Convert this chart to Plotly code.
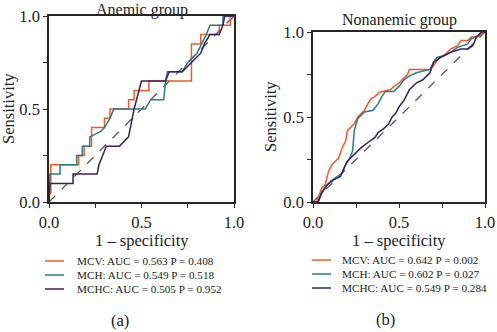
import plotly.graph_objects as go

W, H = 497, 332

series_names = ["MCV", "MCH", "MCHC"]
colors = ["#f05a28", "#2b7b8a", "#3b1f5c"]

# Anemic group (a)
a_labels = ["MCV: AUC = 0.563 P = 0.408", "MCH: AUC = 0.549 P = 0.518", "MCHC: AUC = 0.505 P = 0.952"]
a_mcv_x = [0, 0.005, 0.01, 0.01, 0.16, 0.16, 0.19, 0.19, 0.23, 0.23, 0.30, 0.30, 0.33, 0.33, 0.43, 0.43, 0.46, 0.46, 0.54, 0.54, 0.77, 0.77, 0.82, 0.82, 0.92, 0.92, 0.98, 0.98, 1.0]
a_mcv_y = [0, 0.05, 0.05, 0.20, 0.20, 0.25, 0.25, 0.30, 0.30, 0.40, 0.40, 0.45, 0.45, 0.50, 0.50, 0.55, 0.55, 0.60, 0.60, 0.65, 0.65, 0.85, 0.85, 0.90, 0.90, 0.95, 0.95, 1.0, 1.0]
a_mch_x = [0, 0.005, 0.005, 0.06, 0.06, 0.15, 0.15, 0.18, 0.18, 0.22, 0.22, 0.28, 0.30, 0.33, 0.35, 0.52, 0.55, 0.62, 0.63, 0.64, 0.72, 0.75, 0.80, 0.85, 0.87, 0.94, 0.94, 1.0]
a_mch_y = [0, 0.10, 0.15, 0.15, 0.20, 0.20, 0.25, 0.25, 0.30, 0.30, 0.35, 0.38, 0.40, 0.45, 0.50, 0.50, 0.55, 0.55, 0.65, 0.70, 0.70, 0.75, 0.80, 0.90, 0.95, 0.95, 1.0, 1.0]
a_mchc_x = [0, 0.005, 0.13, 0.13, 0.26, 0.27, 0.31, 0.38, 0.43, 0.46, 0.50, 0.63, 0.65, 0.72, 0.77, 0.82, 0.84, 0.87, 0.92, 0.94, 0.95, 1.0]
a_mchc_y = [0, 0.10, 0.10, 0.15, 0.15, 0.20, 0.30, 0.30, 0.35, 0.50, 0.65, 0.65, 0.70, 0.70, 0.75, 0.80, 0.85, 0.90, 0.90, 0.95, 1.0, 1.0]

# Nonanemic group (b)
b_labels = ["MCV: AUC = 0.642 P = 0.002", "MCH: AUC = 0.602 P = 0.027", "MCHC: AUC = 0.549 P = 0.284"]
b_mcv_x = [0, 0.02, 0.03, 0.05, 0.07, 0.09, 0.11, 0.13, 0.15, 0.17, 0.19, 0.20, 0.22, 0.24, 0.26, 0.28, 0.30, 0.32, 0.34, 0.36, 0.38, 0.40, 0.45, 0.47, 0.50, 0.52, 0.55, 0.56, 0.68, 0.70, 0.72, 0.74, 0.77, 0.80, 0.84, 0.86, 0.90, 0.92, 0.95, 0.97, 1.0]
b_mcv_y = [0, 0.0, 0.02, 0.08, 0.10, 0.18, 0.22, 0.24, 0.26, 0.32, 0.36, 0.42, 0.44, 0.46, 0.50, 0.52, 0.54, 0.58, 0.61, 0.62, 0.64, 0.65, 0.66, 0.68, 0.70, 0.72, 0.75, 0.78, 0.78, 0.80, 0.83, 0.85, 0.87, 0.90, 0.92, 0.95, 0.95, 0.97, 0.97, 0.98, 1.0]
b_mch_x = [0, 0.03, 0.05, 0.08, 0.10, 0.14, 0.17, 0.19, 0.21, 0.23, 0.24, 0.26, 0.28, 0.30, 0.35, 0.38, 0.40, 0.42, 0.47, 0.50, 0.53, 0.56, 0.60, 0.68, 0.70, 0.72, 0.76, 0.80, 0.84, 0.90, 0.92, 0.96, 0.98, 1.0]
b_mch_y = [0, 0.0, 0.06, 0.10, 0.12, 0.15, 0.17, 0.22, 0.25, 0.30, 0.42, 0.49, 0.51, 0.53, 0.54, 0.58, 0.62, 0.65, 0.65, 0.68, 0.72, 0.74, 0.76, 0.78, 0.82, 0.85, 0.86, 0.88, 0.91, 0.93, 0.96, 0.98, 1.0, 1.0]
b_mchc_x = [0, 0.03, 0.05, 0.08, 0.12, 0.16, 0.18, 0.20, 0.24, 0.28, 0.32, 0.36, 0.38, 0.41, 0.44, 0.46, 0.48, 0.50, 0.53, 0.56, 0.60, 0.64, 0.68, 0.70, 0.74, 0.80, 0.86, 0.90, 0.93, 0.95, 0.98, 1.0]
b_mchc_y = [0, 0.0, 0.05, 0.10, 0.13, 0.15, 0.20, 0.24, 0.28, 0.32, 0.35, 0.38, 0.41, 0.43, 0.46, 0.50, 0.52, 0.56, 0.60, 0.66, 0.70, 0.72, 0.76, 0.82, 0.85, 0.88, 0.90, 0.90, 0.92, 0.97, 1.0, 1.0]

diag = [0, 1]
tick_vals = [0, 0.25, 0.5, 0.75, 1.0]
tick_text = ["0.0", "", "0.5", "", "1.0"]

panels = [
    dict(title="Anemic group", tag="(a)", labels=a_labels,
         xs=[a_mcv_x, a_mch_x, a_mchc_x], ys=[a_mcv_y, a_mch_y, a_mchc_y],
         px=(49, 234), py=(16, 202), title_y=0, title_anchor="top", xlab_y=240, ylab_x=9,
         leg_line=(45, 64), leg_text=75, leg_y=(261, 275, 289), tag_xy=(120, 320)),
    dict(title="Nonanemic group", tag="(b)", labels=b_labels,
         xs=[b_mcv_x, b_mch_x, b_mchc_x], ys=[b_mcv_y, b_mch_y, b_mchc_y],
         px=(313, 485), py=(32, 202), title_y=20, title_anchor="middle", xlab_y=240, ylab_x=271,
         leg_line=(312, 331), leg_text=340, leg_y=(260, 274, 288), tag_xy=(385, 319)),
]

FONT = "Liberation Serif"
AX = "#262626"
TXT = "#222222"

def fx(p):
    return p / W

def fy(p):
    return 1 - p / H

fig = go.Figure()
annotations = []
shapes = []
for i, pn in enumerate(panels):
    xa = "x" if i == 0 else "x2"
    ya = "y" if i == 0 else "y2"
    fig.add_trace(go.Scatter(x=diag, y=diag, mode="lines", xaxis=xa, yaxis=ya,
                             line=dict(color="#555555", width=1.3, dash="dash"),
                             showlegend=False, hoverinfo="skip"))
    for k in range(3):
        fig.add_trace(go.Scatter(x=pn["xs"][k], y=pn["ys"][k], mode="lines",
                                 xaxis=xa, yaxis=ya, name=series_names[k],
                                 line=dict(color=colors[k], width=1.5),
                                 showlegend=False))
    axkw = dict(range=[0, 1], showgrid=False, zeroline=False, showline=True, mirror=True,
                linecolor=AX, linewidth=1.5, ticks="outside", ticklen=4, tickwidth=1.3,
                tickcolor=AX, tickvals=tick_vals, ticktext=tick_text, automargin=False,
                tickfont=dict(family=FONT, size=16.5, color=TXT), fixedrange=True)
    xkey = "xaxis" if i == 0 else "xaxis2"
    ykey = "yaxis" if i == 0 else "yaxis2"
    fig.update_layout(**{
        xkey: dict(domain=[fx(pn["px"][0]), fx(pn["px"][1])], anchor=ya, **axkw),
        ykey: dict(domain=[fy(pn["py"][1]), fy(pn["py"][0])], anchor=xa, **axkw),
    })
    cx = (pn["px"][0] + pn["px"][1]) / 2
    cy = (pn["py"][0] + pn["py"][1]) / 2
    annotations.append(dict(text=pn["title"], x=fx(cx), y=fy(pn["title_y"]), xref="paper", yref="paper",
                            showarrow=False, xanchor="center", yanchor=pn["title_anchor"], borderpad=0,
                            font=dict(family=FONT, size=16, color=TXT)))
    annotations.append(dict(text="1 – specificity", x=fx(cx), y=fy(pn["xlab_y"]), xref="paper", yref="paper",
                            showarrow=False, xanchor="center", yanchor="middle",
                            font=dict(family=FONT, size=16.5, color=TXT)))
    annotations.append(dict(text="Sensitivity", x=fx(pn["ylab_x"]), y=fy(cy), xref="paper", yref="paper",
                            showarrow=False, xanchor="center", yanchor="middle", textangle=-90,
                            font=dict(family=FONT, size=16.5, color=TXT)))
    annotations.append(dict(text=pn["tag"], x=fx(pn["tag_xy"][0]), y=fy(pn["tag_xy"][1]), xref="paper", yref="paper",
                            showarrow=False, xanchor="center", yanchor="middle",
                            font=dict(family=FONT, size=16.5, color=TXT)))
    for k in range(3):
        ly = pn["leg_y"][k]
        shapes.append(dict(type="line", xref="paper", yref="paper",
                           x0=fx(pn["leg_line"][0]), x1=fx(pn["leg_line"][1]),
                           y0=fy(ly), y1=fy(ly), line=dict(color=colors[k], width=1.5)))
        annotations.append(dict(text=pn["labels"][k], x=fx(pn["leg_text"]), y=fy(ly), xref="paper", yref="paper",
                                showarrow=False, xanchor="left", yanchor="middle",
                                font=dict(family=FONT, size=11.2, color=TXT)))

fig.update_layout(width=W, height=H, margin=dict(l=0, r=0, t=0, b=0, pad=0, autoexpand=False),
                  paper_bgcolor="white", plot_bgcolor="white",
                  annotations=annotations, shapes=shapes, showlegend=False)

fig.write_html("out.html", config={"displayModeBar": False},
               post_script="document.body.style.margin='0';document.body.style.overflow='hidden';")
